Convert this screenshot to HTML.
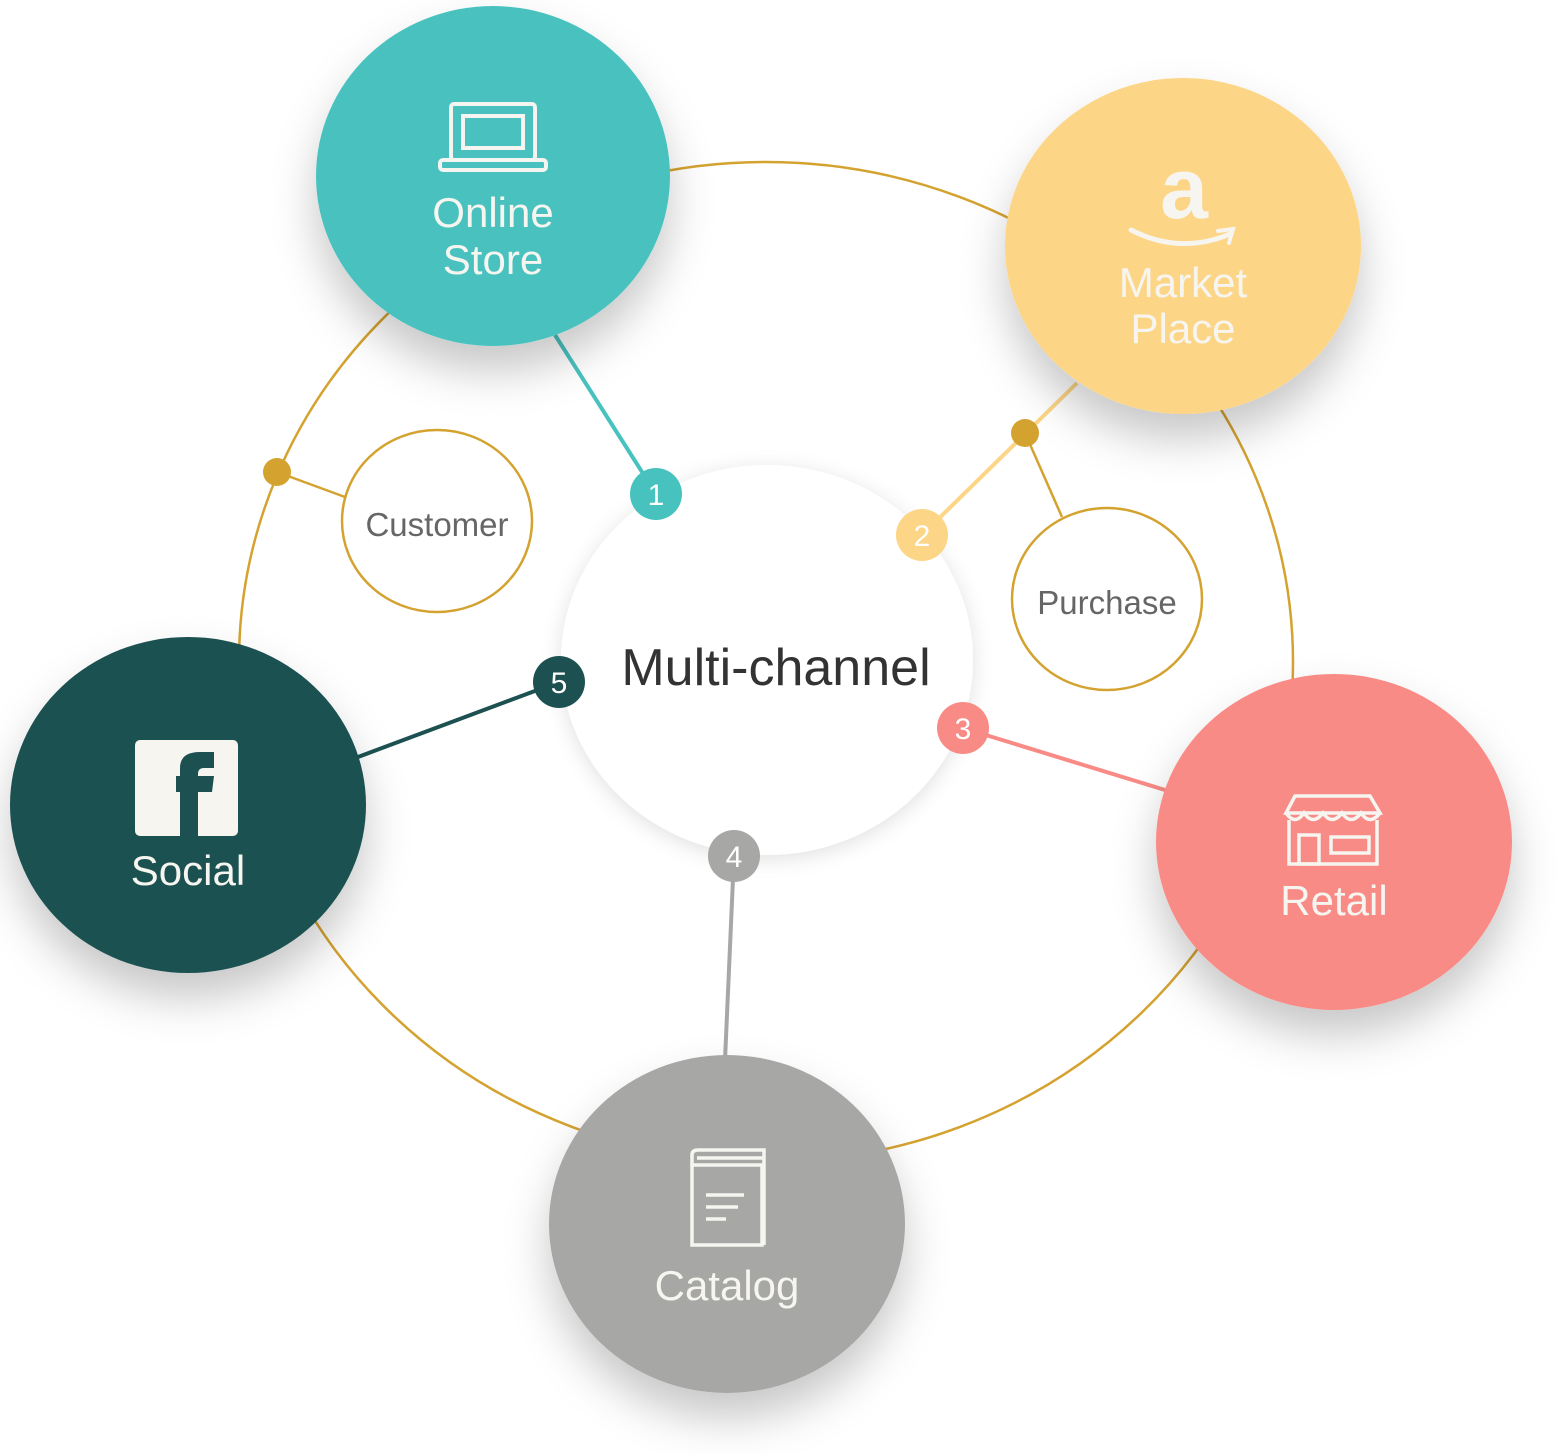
<!DOCTYPE html>
<html><head><meta charset="utf-8"><style>
html,body{margin:0;padding:0;background:#fff;width:1560px;height:1454px;overflow:hidden}
svg{display:block}
text{font-family:"Liberation Sans","DejaVu Sans",sans-serif}
</style></head><body>
<svg width="1560" height="1454" viewBox="0 0 1560 1454" xmlns="http://www.w3.org/2000/svg">
<defs>
<filter id="sh" x="-40%" y="-40%" width="180%" height="180%">
<feDropShadow dx="0" dy="25" stdDeviation="22" flood-color="#000" flood-opacity="0.22"/>
</filter>
<filter id="sh2" x="-30%" y="-30%" width="160%" height="160%">
<feDropShadow dx="0" dy="4" stdDeviation="10" flood-color="#000" flood-opacity="0.12"/>
</filter>
</defs>
<ellipse cx="766" cy="662" rx="527" ry="500" fill="none" stroke="#d4a22f" stroke-width="2.5"/>
<ellipse cx="767" cy="660" rx="206" ry="195" fill="#fff" filter="url(#sh2)"/>
<text x="776" y="685" font-size="52" fill="#333" text-anchor="middle">Multi-channel</text>
<line x1="555" y1="335" x2="656" y2="494" stroke="#48c2bf" stroke-width="4"/>
<line x1="1077" y1="383" x2="922" y2="535" stroke="#fdd587" stroke-width="4"/>
<line x1="963" y1="728" x2="1165" y2="790" stroke="#f98b87" stroke-width="4"/>
<line x1="734" y1="856" x2="725" y2="1060" stroke="#a7a7a5" stroke-width="4"/>
<line x1="559" y1="682" x2="358" y2="757" stroke="#1d5151" stroke-width="4"/>
<line x1="277" y1="472" x2="345" y2="497" stroke="#d4a22f" stroke-width="2.5"/>
<line x1="1025" y1="433" x2="1062" y2="517" stroke="#d4a22f" stroke-width="2.5"/>
<circle cx="277" cy="472" r="14" fill="#d4a22f"/>
<circle cx="1025" cy="433" r="14" fill="#d4a22f"/>
<ellipse cx="437" cy="521" rx="95" ry="91" fill="#fff" stroke="#d4a22f" stroke-width="2.5"/>
<text x="437" y="536" font-size="33" fill="#666" text-anchor="middle">Customer</text>
<ellipse cx="1107" cy="599" rx="95" ry="91" fill="#fff" stroke="#d4a22f" stroke-width="2.5"/>
<text x="1107" y="614" font-size="33" fill="#666" text-anchor="middle">Purchase</text>
<g font-size="30" fill="#fff" text-anchor="middle">
<circle cx="656" cy="494" r="26" fill="#48c2bf"/><text x="656" y="505">1</text>
<circle cx="922" cy="535" r="26" fill="#fdd587"/><text x="922" y="546">2</text>
<circle cx="963" cy="728" r="26" fill="#f98b87"/><text x="963" y="739">3</text>
<circle cx="734" cy="856" r="26" fill="#a7a7a5"/><text x="734" y="867">4</text>
<circle cx="559" cy="682" r="26" fill="#1d5151"/><text x="559" y="693">5</text>
</g>
<ellipse cx="493" cy="176" rx="177" ry="170" fill="#48c2bf" filter="url(#sh)"/>
<ellipse cx="1183" cy="246" rx="178" ry="168" fill="#fdd587" filter="url(#sh)"/>
<ellipse cx="188" cy="805" rx="178" ry="168" fill="#1d5151" filter="url(#sh)"/>
<ellipse cx="1334" cy="842" rx="178" ry="168" fill="#f98b87" filter="url(#sh)"/>
<ellipse cx="727" cy="1224" rx="178" ry="169" fill="#a7a7a5" filter="url(#sh)"/>
<g fill="none" stroke="#f4f4f0" stroke-width="4">
<rect x="451" y="104" width="84" height="56" rx="3"/>
<rect x="463" y="116" width="60" height="32"/>
<rect x="440" y="160" width="106" height="10" rx="3"/>
</g>
<g font-size="42" fill="#f6f5f0" text-anchor="middle">
<text x="493" y="227">Online</text><text x="493" y="274">Store</text>
<text x="1183" y="297">Market</text><text x="1183" y="343">Place</text>
<text x="188" y="885">Social</text>
<text x="1334" y="915">Retail</text>
<text x="727" y="1300">Catalog</text>
</g>
<text x="1184" y="218" font-size="86" font-weight="bold" fill="#f6f5f0" text-anchor="middle" font-family="Liberation Serif,serif">a</text>
<path d="M1131 230 Q1180 255 1230 234" fill="none" stroke="#f6f5f0" stroke-width="5" stroke-linecap="round"/>
<path d="M1218 231 L1233 229 L1229 243" fill="none" stroke="#f6f5f0" stroke-width="4" stroke-linecap="round"/>
<rect x="135" y="740" width="103" height="96" rx="5" fill="#f6f5f0"/>
<path d="M180 836 V792 H176 V776 H180 V768 Q180 752 200 752 H214 V768 H204 Q198 768 198 774 V776 H214 L212 792 H198 V836 Z" fill="#1d5151"/>
<g fill="none" stroke="#f6f5f0" stroke-width="3.5">
<path d="M1295 796 H1370 L1380 813 H1286 Z"/>
<path d="M1286 813 Q1295 826 1304 813 Q1313 826 1323 813 Q1332 826 1342 813 Q1351 826 1361 813 Q1370 826 1380 813"/>
<path d="M1289 820 V864 H1377 V820"/>
<rect x="1299" y="835" width="20" height="29"/>
<rect x="1331" y="837" width="38" height="16"/>
</g>
<g fill="none" stroke="#f6f5f0" stroke-width="3.5">
<rect x="692" y="1165" width="70" height="80"/>
<path d="M692 1165 V1155 Q692 1150 698 1150 H764 V1245"/>
<path d="M697 1158 H764"/>
<path d="M706 1195 H744 M706 1207 H738 M706 1219 H726"/>
</g>
</svg>
</body></html>
